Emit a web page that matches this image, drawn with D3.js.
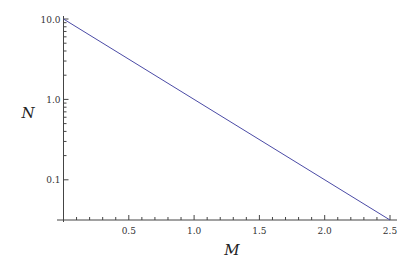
<!DOCTYPE html>
<html>
<head>
<meta charset="utf-8">
<script src="https://cdn.jsdelivr.net/npm/d3@7"></script>
<style>
  body { margin: 0; background: #fff; }
  svg { display: block; }
  .tick-label { font-family: "DejaVu Serif", "Liberation Serif", serif; font-size: 9px; fill: #333; }
  .axis-label { font-family: "DejaVu Serif", "Liberation Serif", serif; font-size: 15px; font-style: italic; fill: #222; }
</style>
</head>
<body>
<div id="chart"></div>
<script>
// Line N = 10^(1 - M) at its two ends
var lineM = [0, 2.5];
var lineN = [10, 0.0316];

var xMajor = [0.5, 1.0, 1.5, 2.0, 2.5];
var xMinor = [0.1, 0.2, 0.3, 0.4, 0.6, 0.7, 0.8, 0.9, 1.1, 1.2, 1.3, 1.4,
              1.6, 1.7, 1.8, 1.9, 2.1, 2.2, 2.3, 2.4];
var yMajor = [0.1, 1, 10];
var yMajorLabels = ["0.1", "1.0", "10.0"];
var yMinor = [0.2, 0.3, 0.4, 0.5, 0.6, 0.7, 0.8, 0.9, 2, 3, 4, 5, 6, 7, 8, 9];

var width = 420, height = 270;

var svg = d3.select('#chart').append('svg')
  .attr('width', width)
  .attr('height', height);

// scales fitted to the reference pixels
var x = d3.scaleLinear().domain([0, 2.5]).range([63.5, 390]);
var y = d3.scaleLog().domain([Math.pow(10, -1.5), 10]).range([220, 19]);

var axisColor = "#444";

// axis lines
svg.append("line")
  .attr("x1", 57).attr("x2", 397)
  .attr("y1", y.range()[0]).attr("y2", y.range()[0])
  .attr("stroke", axisColor).attr("stroke-width", 1);
svg.append("line")
  .attr("x1", x(0)).attr("x2", x(0))
  .attr("y1", 16).attr("y2", 222)
  .attr("stroke", axisColor).attr("stroke-width", 1);

// x ticks
var x0 = y.range()[0];
svg.append("g").selectAll("line.major")
  .data(xMajor).enter().append("line")
  .attr("x1", function(d) { return x(d); }).attr("x2", function(d) { return x(d); })
  .attr("y1", x0).attr("y2", x0 - 5)
  .attr("stroke", axisColor);
svg.append("g").selectAll("line.minor")
  .data(xMinor).enter().append("line")
  .attr("x1", function(d) { return x(d); }).attr("x2", function(d) { return x(d); })
  .attr("y1", x0).attr("y2", x0 - 3)
  .attr("stroke", axisColor);
svg.append("g").selectAll("text")
  .data(xMajor).enter().append("text")
  .attr("class", "tick-label")
  .attr("x", function(d) { return x(d); })
  .attr("y", x0 + 14)
  .attr("text-anchor", "middle")
  .text(function(d) { return d3.format(".1f")(d); });

// y ticks
var y0 = x(0);
svg.append("g").selectAll("line.major")
  .data(yMajor).enter().append("line")
  .attr("x1", y0).attr("x2", y0 + 5)
  .attr("y1", function(d) { return y(d); }).attr("y2", function(d) { return y(d); })
  .attr("stroke", axisColor);
svg.append("g").selectAll("line.minor")
  .data(yMinor).enter().append("line")
  .attr("x1", y0).attr("x2", y0 + 3)
  .attr("y1", function(d) { return y(d); }).attr("y2", function(d) { return y(d); })
  .attr("stroke", axisColor);
svg.append("g").selectAll("text")
  .data(yMajor).enter().append("text")
  .attr("class", "tick-label")
  .attr("x", y0 - 3)
  .attr("y", function(d) { return y(d) + 3.5; })
  .attr("text-anchor", "end")
  .text(function(d, i) { return yMajorLabels[i]; });

// data line
var pts = lineM.map(function(m, i) { return [m, lineN[i]]; });
svg.append("path")
  .datum(pts)
  .attr("fill", "none")
  .attr("stroke", "#4b4ba6")
  .attr("stroke-width", 1)
  .attr("d", d3.line()
    .x(function(d) { return x(d[0]); })
    .y(function(d) { return y(d[1]); }));

// axis labels
svg.append("text").attr("class", "axis-label")
  .attr("x", 28).attr("y", 118)
  .attr("text-anchor", "middle")
  .text("N");
svg.append("text").attr("class", "axis-label")
  .attr("x", 232).attr("y", 255)
  .attr("text-anchor", "middle")
  .text("M");
</script>
</body>
</html>
